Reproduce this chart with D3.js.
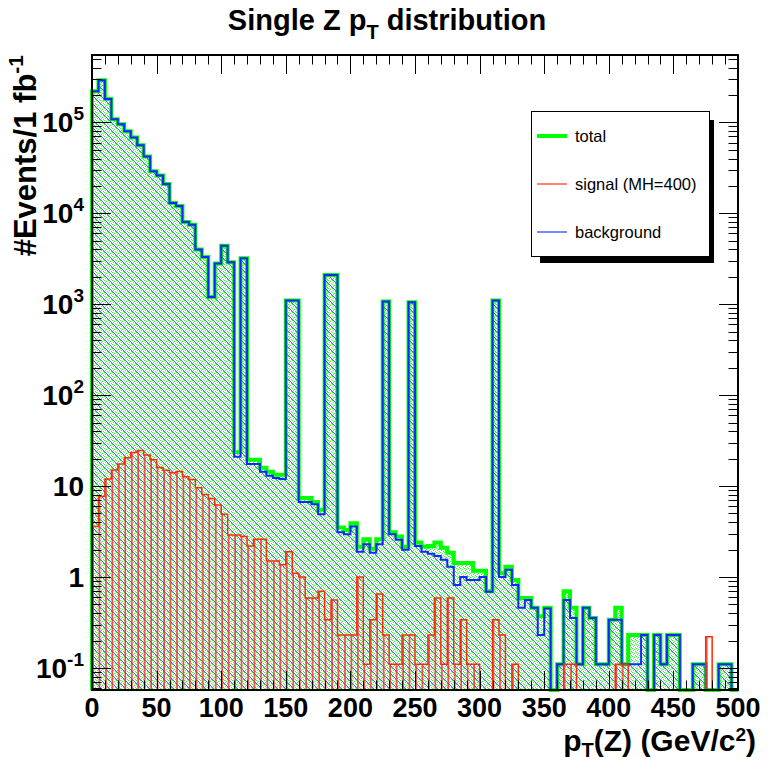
<!DOCTYPE html>
<html>
<head>
<meta charset="utf-8">
<script src="https://cdn.jsdelivr.net/npm/d3@7"></script>
<style>
  html, body { margin: 0; padding: 0; background: #fff; }
  svg { display: block; }
  text { font-family: "Liberation Sans", Arial, Helvetica, sans-serif; }
</style>
</head>
<body>
<svg id="chart" width="768" height="764"></svg>
<script>
// Z pT histograms, 100 bins of 5 GeV/c from 0 to 500 (events per 1 fb^-1)
const ptMin = 0, ptMax = 500, nBins = 100;

const total = [
  2.2e5, 2.9e5, 1.8e5, 1.08e5, 9.5e4, 8.0e4, 6.8e4, 5.6e4, 4.2e4, 2.9e4,
  2.6e4, 2.1e4, 1.3e4, 1.2e4, 8.0e3, 7.5e3, 4.0e3, 3.3e3, 1.2e3, 2.8e3,
  4.4e3, 2.9e3, 23.5, 3.2e3, 19.5, 19.5, 15.9, 14.4, 13.3, 13.3,
  1.1e3, 1.1e3, 7.4, 7.4, 6.7, 5.5, 2.1e3, 2.1e3, 3.5, 3.3,
  3.9, 2.15, 2.6, 2.05, 2.6, 1.07e3, 3.1, 2.8, 2.15, 1.05e3,
  2.4, 2.15, 2.2, 2.4, 2.1, 1.85, 1.43, 1.43, 1.43, 1.17,
  1.17, 0.7, 1.1e3, 1.1, 1.3, 0.93, 0.59, 0.59, 0.46, 0.37,
  0.46, 0, 0.11, 0.7, 0.46, 0.11, 0.46, 0.355, 0.11, 0.11,
  0.34, 0.46, 0.11, 0.23, 0.23, 0.23, 0, 0.23, 0.11, 0.23,
  0.23, 0, 0, 0.11, 0.11, 0, 0, 0.11, 0.11, 0
];

const background = [
  2.2e5, 2.9e5, 1.8e5, 1.08e5, 9.5e4, 8.0e4, 6.8e4, 5.6e4, 4.2e4, 2.9e4,
  2.6e4, 2.1e4, 1.3e4, 1.2e4, 8.0e3, 7.5e3, 4.0e3, 3.3e3, 1.2e3, 2.8e3,
  4.4e3, 2.9e3, 21, 3.2e3, 17.5, 17.5, 14.4, 13, 12.3, 12,
  1.1e3, 1.1e3, 6.7, 6.7, 6.3, 4.9, 2.1e3, 2.1e3, 3.1, 2.95,
  3.6, 1.9, 2.3, 1.85, 2.3, 1.07e3, 2.95, 2.57, 2.0, 1.05e3,
  2.2, 1.9, 1.8, 1.7, 1.55, 1.3, 0.82, 1.0, 0.93, 0.93,
  1.0, 0.69, 1.1e3, 1.0, 1.2, 0.82, 0.46, 0.56, 0.46, 0.23,
  0.45, 0, 0.11, 0.56, 0.355, 0.11, 0.46, 0.355, 0.11, 0.11,
  0.34, 0.34, 0.11, 0.11, 0.11, 0.23, 0, 0.23, 0.11, 0.23,
  0.23, 0, 0, 0.11, 0.11, 0, 0, 0.11, 0.11, 0
];

const signal = [
  3.6, 7.7, 12, 15, 17.5, 20.5, 23.4, 24.6, 22, 19.5,
  16, 14.9, 14, 14.5, 12.7, 11.8, 9.6, 8.1, 7.3, 6.2,
  4.9, 2.9, 2.9, 2.8, 2.2, 2.6, 2.6, 1.5, 1.5, 1.37,
  1.9, 1.1, 1.0, 0.59, 0.59, 0.7, 0.34, 0.56, 0.23, 0.23,
  0.23, 1.0, 0.11, 0.34, 0.65, 0.23, 0.11, 0.11, 0.23, 0.23,
  0.11, 0.11, 0.23, 0.59, 0.11, 0.59, 0.11, 0.34, 0.11, 0.11,
  0, 0, 0.34, 0.23, 0, 0.11, 0, 0, 0, 0,
  0, 0, 0, 0.11, 0.11, 0, 0, 0, 0, 0,
  0, 0.11, 0.11, 0, 0, 0, 0, 0, 0, 0,
  0, 0, 0, 0, 0, 0.22, 0, 0, 0, 0
];

const xTickLabels = ["0", "50", "100", "150", "200", "250", "300", "350", "400", "450", "500"];
const yMajorValues = [0.1, 1, 10, 100, 1000, 10000, 100000];
const yTickLabels = [["10", "-1"], ["1", ""], ["10", ""], ["10", "2"], ["10", "3"], ["10", "4"], ["10", "5"]];
const legendLabels = ["total", "signal (MH=400)", "background"];

const svg = d3.select("#chart");
const frameL = 92, frameR = 738, frameT = 55, frameB = 690;

const x = d3.scaleLinear().domain([ptMin, ptMax]).range([frameL, frameR]);
const y = d3.scaleLog().domain([0.0573, 5.5e5]).range([frameB, frameT]);
const binW = (ptMax - ptMin) / nBins;

function yv(v) {
  if (!(v > 0)) return frameB;
  return Math.min(frameB, y(v));
}

// step outline of a histogram, starting and ending on the frame bottom
function stepPath(values, closed) {
  const p = d3.path();
  p.moveTo(x(ptMin), frameB);
  values.forEach((v, i) => {
    const x0 = x(ptMin + i * binW), x1 = x(ptMin + (i + 1) * binW);
    p.lineTo(x0, yv(v));
    p.lineTo(x1, yv(v));
  });
  p.lineTo(x(ptMax), frameB);
  if (closed) p.closePath();
  return p.toString();
}

// fill patterns: green dots, blue diagonal hatch, red vertical hatch
const defs = svg.append("defs");
const dots = defs.append("pattern").attr("id", "dots")
  .attr("patternUnits", "userSpaceOnUse").attr("width", 4).attr("height", 4)
  .attr("x", 0).attr("y", 0);
[[0, 0], [2, 1], [1, 2], [3, 3]].forEach(([px, py]) => {
  dots.append("rect").attr("x", px).attr("y", py).attr("width", 1).attr("height", 1)
    .attr("fill", "#22ff22").attr("shape-rendering", "crispEdges");
});

const diag = defs.append("pattern").attr("id", "diag")
  .attr("patternUnits", "userSpaceOnUse").attr("width", 8).attr("height", 8)
  .attr("x", frameL).attr("y", frameT);
diag.append("path").attr("d", "M-2,-2 L10,10 M-6,2 L2,10 M6,-2 L10,2")
  .attr("stroke", "#4058ff").attr("stroke-width", 0.9).attr("fill", "none");

const vert = defs.append("pattern").attr("id", "vert")
  .attr("patternUnits", "userSpaceOnUse").attr("width", x(binW) - x(0)).attr("height", 10)
  .attr("x", frameL).attr("y", 0);
vert.append("line").attr("x1", 1).attr("x2", 1).attr("y1", 0).attr("y2", 10)
  .attr("stroke", "#ff2020").attr("stroke-width", 1.4);

svg.append("clipPath").attr("id", "frameClip").append("rect")
  .attr("x", frameL).attr("y", frameT).attr("width", frameR - frameL).attr("height", frameB - frameT);

const plot = svg.append("g");

// total
plot.append("path").attr("d", stepPath(total, true)).attr("fill", "url(#dots)").attr("clip-path", "url(#frameClip)");
plot.append("path").attr("d", stepPath(total, false)).attr("fill", "none")
  .attr("stroke", "#00ff00").attr("stroke-width", 4).attr("stroke-linejoin", "miter");

// background
plot.append("path").attr("d", stepPath(background, true)).attr("fill", "url(#diag)").attr("clip-path", "url(#frameClip)");
plot.append("path").attr("d", stepPath(background, false)).attr("fill", "none")
  .attr("stroke", "#1028ff").attr("stroke-width", 2);

// signal
plot.append("path").attr("d", stepPath(signal, true)).attr("fill", "url(#vert)").attr("clip-path", "url(#frameClip)");
plot.append("path").attr("d", stepPath(signal, false)).attr("fill", "none")
  .attr("stroke", "#ff2a00").attr("stroke-width", 1.5);

// frame and ticks
const axes = svg.append("g").attr("stroke", "#000");
const majLen = 19, minLen = 9.5;

d3.range(ptMin, ptMax + 0.001, 10).forEach(v => {
  const len = (v % 50 === 0) ? majLen : minLen;
  const xx = Math.round(x(v)) + 0.5;
  axes.append("line").attr("x1", xx).attr("x2", xx).attr("y1", frameB).attr("y2", frameB - len).attr("stroke-width", 1);
  axes.append("line").attr("x1", xx).attr("x2", xx).attr("y1", frameT).attr("y2", frameT + len).attr("stroke-width", 1);
});

const [yLo, yHi] = y.domain();
for (let e = -2; e <= 5; e++) {
  for (let m = 1; m <= 9; m++) {
    const v = m * Math.pow(10, e);
    if (v < yLo || v > yHi) continue;
    const len = m === 1 ? majLen : minLen;
    const yy = Math.round(y(v)) + 0.5;
    axes.append("line").attr("x1", frameL).attr("x2", frameL + len).attr("y1", yy).attr("y2", yy).attr("stroke-width", 1);
    axes.append("line").attr("x1", frameR).attr("x2", frameR - len).attr("y1", yy).attr("y2", yy).attr("stroke-width", 1);
  }
}

axes.append("rect").attr("x", frameL).attr("y", frameT).attr("width", frameR - frameL).attr("height", frameB - frameT)
  .attr("fill", "none").attr("stroke-width", 2);

// tick labels
const labels = svg.append("g").attr("font-weight", "bold").attr("fill", "#000");
xTickLabels.forEach(t => {
  labels.append("text").attr("x", x(+t)).attr("y", 717)
    .attr("text-anchor", "middle").attr("font-size", 27).text(t);
});
yMajorValues.forEach((v, i) => {
  const [base, sup] = yTickLabels[i];
  const t = labels.append("text").attr("x", 84).attr("y", y(v) + 10)
    .attr("text-anchor", "end").attr("font-size", 28);
  t.append("tspan").text(base);
  if (sup) t.append("tspan").attr("dy", -12).attr("font-size", 19).text(sup);
});

// titles
const title = svg.append("text").attr("x", 387).attr("y", 30).attr("text-anchor", "middle")
  .attr("font-weight", "bold").attr("font-size", 29);
title.append("tspan").text("Single Z p");
title.append("tspan").attr("dy", 9).attr("font-size", 20).text("T");
title.append("tspan").attr("dy", -9).text(" distribution");

const xt = svg.append("text").attr("x", 756).attr("y", 751).attr("text-anchor", "end")
  .attr("font-weight", "bold").attr("font-size", 30);
xt.append("tspan").text("p");
xt.append("tspan").attr("dy", 6).attr("font-size", 20).text("T");
xt.append("tspan").attr("dy", -6).text("(Z) (GeV/c");
xt.append("tspan").attr("dy", -10).attr("font-size", 19).text("2");
xt.append("tspan").attr("dy", 10).text(")");

const yt = svg.append("text").attr("transform", `translate(36,${frameT}) rotate(-90)`)
  .attr("text-anchor", "end").attr("font-weight", "bold").attr("font-size", 31);
yt.append("tspan").text("#Events/1 fb");
yt.append("tspan").attr("dy", -13).attr("font-size", 21).text("-1");

// legend
const lg = svg.append("g");
lg.append("rect").attr("x", 540).attr("y", 120).attr("width", 174).attr("height", 143).attr("fill", "#000");
lg.append("rect").attr("x", 531.5).attr("y", 111.5).attr("width", 178).attr("height", 145)
  .attr("fill", "#fff").attr("stroke", "#000").attr("stroke-width", 1);
const legendStyles = [
  { color: "#00ff00", width: 4 },
  { color: "#ff5a40", width: 1.5 },
  { color: "#4a60ff", width: 1.5 }
];
const legendY = [136, 184, 232];
legendLabels.forEach((lab, i) => {
  lg.append("line").attr("x1", 537).attr("x2", 567).attr("y1", legendY[i]).attr("y2", legendY[i])
    .attr("stroke", legendStyles[i].color).attr("stroke-width", legendStyles[i].width);
  lg.append("text").attr("x", 575).attr("y", legendY[i] + 6).attr("font-size", 16.5).attr("fill", "#000").text(lab);
});
</script>
</body>
</html>
